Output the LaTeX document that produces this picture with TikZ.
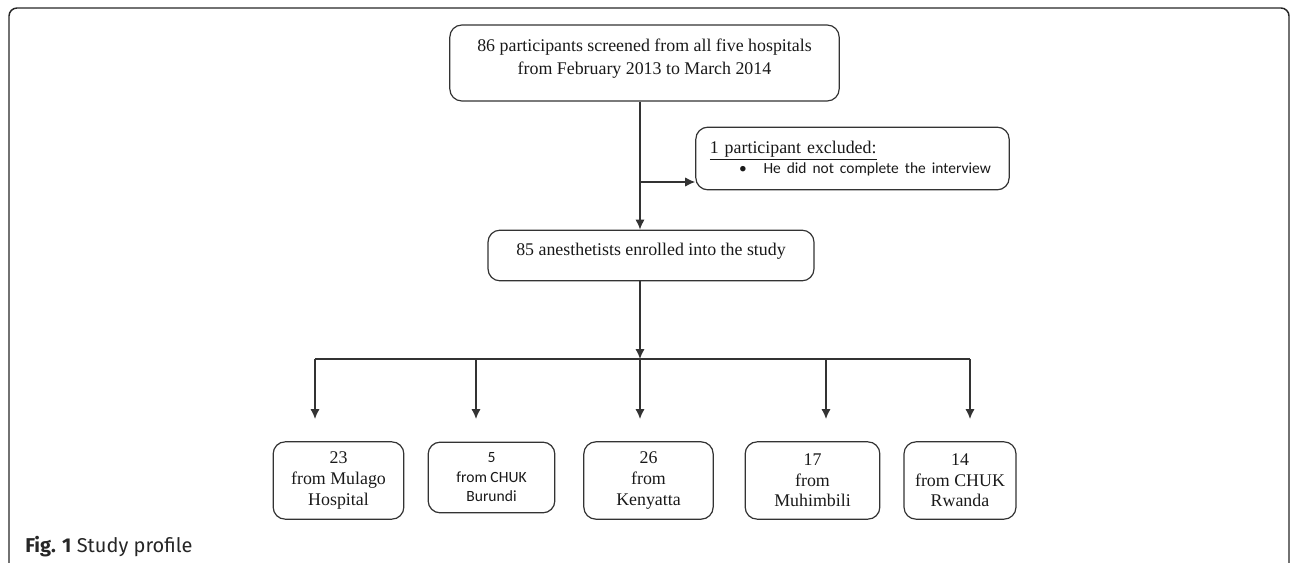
\documentclass[tikz,border=0pt]{standalone}
\usepackage{fontspec}
\setmainfont{Liberation Serif}
\newfontfamily\calibrifont{Carlito}
\newfontfamily\captionfont{Fira Sans}
\usetikzlibrary{arrows.meta}

\begin{document}
\begin{tikzpicture}[
		x=0.75pt, y=-0.75pt,
		block/.style={draw=black!80, line width=0.9pt, rounded corners=9pt, align=center, inner sep=0pt, text=black!90},
		site/.style={block, minimum height=58pt, font=\fontsize{13.4}{15.4}\selectfont},
		link/.style={draw=black!80, line width=1.1pt},
		arrow/.style={link, -{Latex[length=7.5pt, width=7pt]}},
	]
	\useasboundingbox (0,0) rectangle (1290,563);
	\draw[line width=1.1pt, black!85, rounded corners=6pt] (9,600) |- (1289,8) -- (1289,600);

	\node (screen) [block, minimum width=292pt, minimum height=57pt, font=\fontsize{13.4}{17}\selectfont] at (644.5,63) {86 participants screened from all five hospitals\\from February 2013 to March 2014\\[-8pt]\mbox{}};
	\node (excl) [block, minimum height=47pt, inner xsep=10.5pt, text width=214pt, align=left, font=\fontsize{13.4}{14.5}\selectfont] at (852.5,158.5) {\underline{1 participant excluded:}\\{\calibrifont\fontsize{11.6}{14.5}\selectfont\hspace*{22pt}\textbullet\hspace{12.5pt}He did not complete the interview}};
	\node (enrol) [block, minimum width=244.5pt, inner ysep=4pt, text height=14.75pt, text depth=15.25pt, font=\fontsize{13.4}{16}\selectfont] at (651,255.5) {85 anesthetists enrolled into the study};

	\node (mulago) [site, minimum width=98pt] at (338.5,480.5) {23\\from Mulago\\Hospital};
	\node (burundi) [site, minimum width=95pt, minimum height=53pt, font=\calibrifont\fontsize{11.7}{14.6}\selectfont] at (491.5,477.5) {5\\from CHUK\\Burundi};
	\node (kenyatta) [site, minimum width=97pt] at (648.5,480.5) {26\\from\\Kenyatta};
	\node (muhimbili) [site, minimum width=101pt] at (812.5,480.5) {17\\from\\Muhimbili};
	\node (rwanda) [site, minimum width=84pt] at (960,480.5) {14\\from CHUK\\Rwanda};

	% flow from screening to enrolment, with the exclusion on the side
	\coordinate (split) at (640,182);
	\coordinate (hub) at (640,359);
	\draw[arrow] (split |- screen.south) -- (split |- enrol.north);
	\draw[arrow] (split) -- (excl.west |- split);
	\draw[arrow] (hub |- enrol.south) -- (hub);

	% one branch per hospital
	\foreach \name/\x in {tmulago/315, tburundi/476, tkenyatta/640, tmuhimbili/826, trwanda/970}
		\coordinate (\name) at (\x,419);
	\draw[link] (tmulago |- hub) -- (trwanda |- hub);
	\foreach \name in {tmulago, tburundi, tkenyatta, tmuhimbili, trwanda}
		\draw[arrow] (\name |- hub) -- (\name);

	\node (caption) [anchor=base west, inner sep=0pt, font=\captionfont\fontsize{15}{17}\selectfont, text=black!85] at (25,552) {\textbf{Fig. 1} Study profile};
\end{tikzpicture}
\end{document}
